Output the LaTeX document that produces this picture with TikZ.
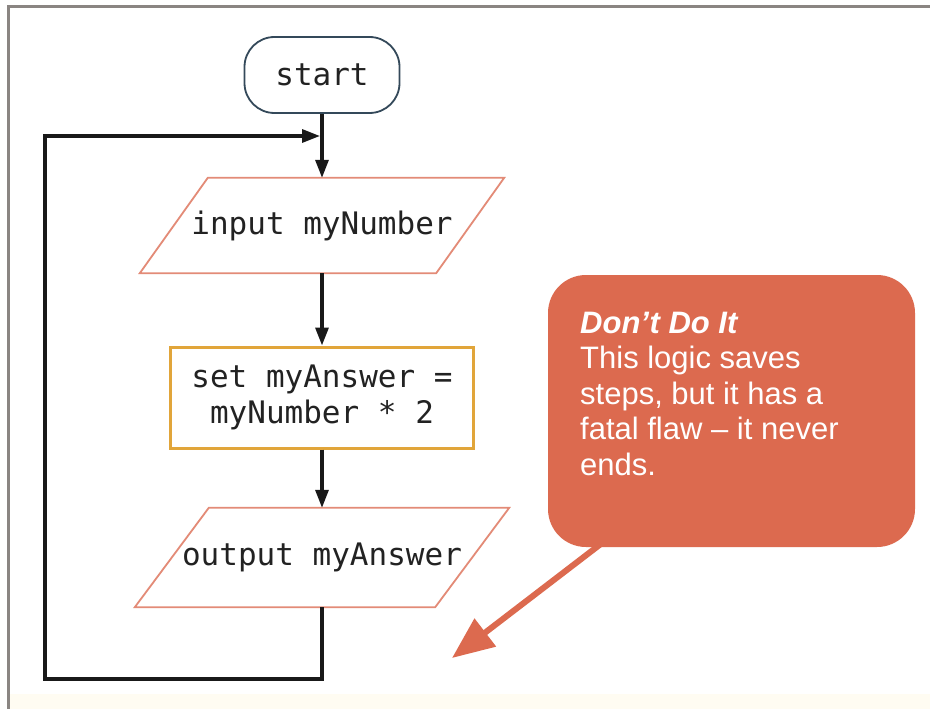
\documentclass[tikz,border=0pt]{standalone}
\usepackage{fontspec}
\setmainfont{Liberation Sans}
\setmonofont{DejaVu Sans Mono}
\newfontfamily\callfont{Liberation Sans}
\usetikzlibrary{arrows.meta,calc}
\definecolor{frame}{HTML}{8A8582}
\definecolor{termedge}{HTML}{34495A}
\definecolor{ioedge}{HTML}{E38B77}
\definecolor{procedge}{HTML}{E1A53A}
\definecolor{callfill}{HTML}{DC6A4F}
\definecolor{codetext}{HTML}{222222}
\definecolor{cream}{HTML}{FFFCF2}
\begin{document}
\begin{tikzpicture}[x=1pt,y=-1pt,
  code/.style={font=\ttfamily\fontsize{31}{36}\selectfont, text=codetext, align=center},
  term/.style={code, draw=termedge, line width=1.8pt, rounded corners=30pt, minimum width=155pt, minimum height=76pt, inner sep=0pt},
  iobox/.style={code, draw=none, minimum width=296pt, minimum height=95pt, inner sep=0pt},
  ioline/.style={draw=ioedge, line width=1.8pt, line join=miter},
  procbox/.style={code, draw=procedge, line width=3pt, minimum width=303pt, minimum height=101pt, inner sep=0pt},
  flow/.style={draw=black!90, line width=3.2pt, -{Triangle[length=18pt,width=13pt]}},
  callbox/.style={fill=callfill, draw=none, rounded corners=38pt, minimum width=367pt, minimum height=272pt, inner sep=0pt},
  calltext/.style={font=\callfont\fontsize{31}{35.5}\selectfont, text=white, align=left, inner sep=0pt},
  callarrow/.style={draw=callfill, line width=6pt, -{Triangle[length=42pt,width=34pt]}}
]
\useasboundingbox (0,0) rectangle (930,709);
\fill[white] (0,0) rectangle (930,709);
\fill[cream] (10,694) rectangle (930,709);
\draw[frame, line width=3pt] (8,709) -- (8,7) -- (930,7);

% nodes
\node[term] (start) at (322,75) {start};
\node[iobox] (in) at (322,225.5) {input myNumber};
\draw[ioline] ([xshift=34pt]in.north west) -- ([xshift=34pt]in.north east)
  -- ([xshift=-34pt]in.south east) -- ([xshift=-34pt]in.south west) -- cycle;
\node[procbox] (proc) at (322,397.5) {set myAnswer =\\myNumber * 2};
\node[iobox, minimum width=300pt, minimum height=99pt] (out) at (322,557.5) {output myAnswer};
\draw[ioline] ([xshift=37pt]out.north west) -- ([xshift=37pt]out.north east)
  -- ([xshift=-37pt]out.south east) -- ([xshift=-37pt]out.south west) -- cycle;

% connectors
\coordinate (join) at (322,136);
\coordinate (loopbl) at (45,679);
\draw[flow] (start.south) -- (in.north);
\draw[flow] (in.south) -- (proc.north);
\draw[flow] (proc.south) -- (out.north);
\draw[flow, line join=miter, shorten >=2pt] (out.south) |- (loopbl) |- (join);

% callout
\node[callbox] (callout) at (731.5,411) {};
\node[calltext, anchor=base west] (ctext) at (580,475)
  {\textbf{\textit{Don’t Do It}}\\This logic saves\\steps, but it has a\\fatal flaw – it never\\ends.};
\coordinate (ctip) at (452,658);
\draw[callarrow] ([xshift=54pt,yshift=4pt]callout.south west) -- (ctip);
\end{tikzpicture}
\end{document}
